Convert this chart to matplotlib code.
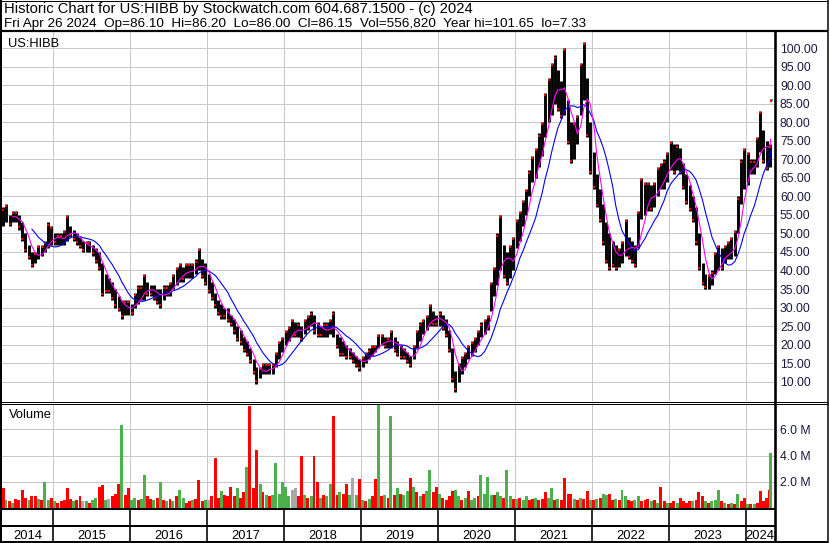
#!/usr/bin/env python

import matplotlib
matplotlib.use("Agg")
import matplotlib.pyplot as plt     # https://matplotlib.org
import pandas as pd                 # https://pandas.pydata.org

plt.rcParams['font.family'] = ['Liberation Sans', 'DejaVu Sans']

W, H = 830, 543          # output size in pixels
PX = 72 / 100            # one pixel in points at dpi 100

# Half-monthly high / low of US:HIBB (May 2014 .. Apr 2024)
highs = [
    57, 58, 55, 56, 56, 55, 53, 50, 47, 45, 45, 47, 47, 48, 53, 52,
    50, 50, 50, 51, 55, 52, 51, 50, 49, 48, 48, 48, 47, 46, 45, 42, 39, 38, 37, 35, 33, 32, 32, 32,
    31, 34, 36, 36, 39, 37, 36, 36, 35, 35, 36, 36, 37, 39, 41, 42, 41, 42, 42, 42, 43, 46, 43, 42,
    39, 37, 34, 32, 31, 30, 30, 28, 27, 25, 24, 22, 21, 19, 16, 14, 14, 15, 15, 15, 15, 18, 21, 22,
    24, 25, 27, 26, 26, 25, 27, 28, 29, 28, 26, 25, 26, 26, 27, 29, 23, 22, 21, 20, 19, 18, 17, 16,
    17, 18, 19, 20, 20, 23, 23, 22, 22, 24, 22, 21, 20, 19, 18, 17, 20, 24, 26, 27, 28, 31, 29, 28,
    29, 28, 27, 24, 19, 13, 15, 17, 18, 20, 21, 22, 24, 26, 27, 28, 37, 41, 50, 55, 47, 45, 47, 49,
    54, 56, 59, 62, 67, 71, 73, 77, 80, 88, 92, 96, 98, 94, 91, 100, 86, 80, 80, 82, 96, 101.65, 92, 80,
    72, 66, 62, 58, 53, 50, 48, 47, 46, 48, 54, 49, 48, 47, 56, 65, 64, 64, 63, 64, 68, 69, 70, 72,
    75, 74, 74, 73, 69, 66, 63, 60, 57, 50, 42, 39, 39, 40, 45, 47, 46, 47, 48, 49, 51, 60, 70, 73,
    72, 70, 70, 76, 83, 78, 75, 74, 86.20,
]
lows = [
    52, 53, 52, 53, 53, 51, 48, 45, 43, 41, 42, 43, 44, 45, 46, 47,
    47, 47, 47, 47, 48, 49, 48, 47, 46, 45, 45, 45, 44, 42, 40, 33, 34, 34, 32, 30, 29, 27, 28, 28,
    28, 30, 31, 32, 32, 33, 33, 32, 31, 30, 32, 33, 33, 35, 36, 37, 37, 38, 38, 38, 39, 40, 38, 36,
    34, 32, 30, 28, 27, 27, 26, 25, 23, 21, 20, 18, 17, 15, 12, 9.5, 11, 12, 12, 12, 12, 14, 16, 18,
    20, 21, 22, 22, 22, 21, 23, 24, 25, 23, 22, 22, 22, 22, 23, 22, 19, 17, 17, 16, 16, 15, 14, 13,
    14, 15, 16, 17, 18, 19, 20, 19, 19, 19, 18, 17, 16, 16, 15, 14, 16, 19, 21, 23, 24, 25, 25, 25,
    25, 24, 22, 18, 10, 7.33, 10, 12, 14, 16, 17, 18, 20, 22, 23, 24, 29, 33, 36, 40, 38, 36, 38, 40,
    46, 48, 52, 55, 60, 64, 65, 68, 71, 76, 80, 82, 85, 83, 81, 82, 74, 69, 70, 74, 82, 86, 76, 66,
    62, 57, 53, 47, 42, 40, 41, 40, 41, 42, 44, 43, 42, 41, 46, 54, 55, 56, 56, 57, 60, 62, 62, 64,
    67, 66, 67, 66, 62, 58, 56, 53, 47, 40, 36, 35, 35, 36, 39, 40, 40, 42, 43, 43, 44, 50, 58, 62,
    63, 66, 66, 68, 72, 69, 67, 68, 86.00,
]

# Largest daily volume seen in each half month, millions of shares
volumes = [
    1.5, 0.6, 0.5, 0.4, 0.7, 0.6, 1.4, 0.8, 0.6, 0.9, 0.9, 0.7, 0.6, 2.0, 0.6, 0.8,
    0.5, 0.4, 0.5, 0.6, 1.5, 0.7, 0.5, 0.6, 0.9, 0.5, 0.5, 0.4, 0.6, 0.8, 1.6, 1.75, 0.6, 0.7, 0.9, 1.1, 1.8, 6.3, 1.0, 1.5,
    0.6, 0.8, 0.6, 0.7, 2.5, 0.9, 0.7, 0.6, 0.8, 2.0, 0.6, 0.5, 0.7, 0.5, 0.9, 1.4, 0.8, 0.4, 0.5, 0.6, 0.7, 2.1, 0.5, 0.6,
    0.6, 0.9, 3.8, 0.8, 1.3, 1.0, 0.9, 1.6, 0.9, 1.5, 0.8, 1.2, 3.1, 7.8, 1.5, 4.4, 1.8, 1.2, 1.0, 0.9, 1.0, 3.4, 1.1, 2.0,
    1.6, 0.9, 1.4, 1.5, 0.9, 4.0, 1.0, 0.8, 0.9, 4.0, 2.0, 0.8, 1.0, 0.9, 1.8, 7.0, 1.0, 1.2, 1.1, 1.8, 1.0, 2.3, 1.0, 2.2,
    0.6, 0.5, 0.7, 0.9, 2.2, 7.9, 0.9, 1.0, 0.8, 7.0, 1.0, 1.5, 1.1, 1.0, 1.3, 2.3, 1.6, 1.2, 0.9, 1.1, 1.3, 2.9, 1.2, 1.6,
    1.1, 0.8, 0.6, 0.9, 1.3, 1.4, 0.9, 0.6, 0.8, 1.3, 0.6, 0.8, 0.9, 2.5, 1.1, 2.4, 1.0, 1.0, 1.2, 0.9, 0.8, 2.9, 0.9, 0.7,
    0.7, 0.8, 0.6, 0.9, 0.6, 0.7, 0.8, 0.6, 0.7, 1.2, 0.8, 1.5, 0.6, 0.7, 0.6, 2.3, 1.1, 1.1, 0.7, 0.6, 0.8, 0.7, 1.3, 0.6,
    0.6, 0.7, 0.8, 1.1, 1.0, 1.1, 0.6, 0.7, 0.6, 1.4, 0.9, 0.6, 0.5, 0.6, 0.9, 0.5, 0.6, 0.7, 0.5, 0.6, 0.4, 1.6, 0.5, 0.4,
    0.4, 0.5, 0.4, 0.8, 0.5, 0.4, 0.5, 0.5, 0.6, 1.2, 0.9, 0.5, 0.4, 0.5, 0.6, 1.4, 0.5, 0.4, 0.3, 0.4, 0.3, 1.1, 0.5, 0.8,
    0.3, 0.3, 0.3, 0.4, 1.3, 0.5, 0.8, 1.4, 4.2,
]
# r = down, g = up, k = unchanged
vol_dirs = (
    "rgrgrrrrgrrgrggr"
    "grrrrrgrrkgrggrrgkrrrgrr"
    "ggrggrrgrgrgrgrggrrgrrrg"
    "krrrgrrrrgrrgrrrgrgrgggg"
    "ggkkrrgrgrrgrggrrgrrgkgr"
    "grgrrgrgrgrgrggrgrgrggrr"
    "grrrrggrgrggrggggrggrggr"
    "grggrrgrrrggrgrrrrgrgrrg"
    "rgrggrrgrggrrggrrrgrgrrg"
    "rrgrrrrgrrrgrgggrgrgrgrr"
    "grgrrrrrg"
)

price_ticks = list(range(10, 101, 5))
volume_ticks = [2, 4, 6]
years = list(range(2015, 2025))
year_labels = list(range(2014, 2025))

header_1 = "Historic Chart for US:HIBB by Stockwatch.com 604.687.1500 - (c) 2024"
header_2 = ("Fri Apr 26 2024  Op=86.10  Hi=86.20  Lo=86.00  Cl=86.15  "
            "Vol=556,820  Year hi=101.65  lo=7.33")


def px_axes(fig, x0, y0, x1, y1):
    """Add an axes given by pixel box (top-left origin)."""
    return fig.add_axes([x0 / W, 1 - y1 / H, (x1 - x0) / W, (y1 - y0) / H])


def main() -> None:
    half_months = pd.date_range('2014-05-01', '2024-04-15', freq='SMS')
    dates = (half_months + pd.Timedelta(days=7)).append(
        pd.DatetimeIndex(['2024-04-26']))
    df = pd.DataFrame({'hi': highs, 'lo': lows, 'vol': volumes,
                       'dir': list(vol_dirs)}, index=dates)
    mid = (df['hi'] + df['lo']) / 2
    ma_fast = mid.rolling(4).mean()
    ma_slow = mid.rolling(10).mean()

    x_left, x_right = pd.Timestamp('2014-05-03'), pd.Timestamp('2024-05-12')
    year_starts = [pd.Timestamp(f'{y}-01-01') for y in years]
    grid = dict(color='#c8c8c8', lw=PX, zorder=0)

    fig = plt.figure(figsize=(W / 100, H / 100), dpi=100)

    # --- price panel
    ax = px_axes(fig, 2, 31, 774, 401)
    ax.set_xlim(x_left, x_right)
    ax.set_ylim(4.8, 104.6)
    for p in price_ticks:
        ax.axhline(p, **grid)
    for d in year_starts:
        ax.axvline(d, **grid)
    ax.vlines(df.index, df['lo'], df['hi'], color='black', lw=2.9 * PX, zorder=2)
    falling = mid.diff() < 0
    ax.plot(df.index[falling], df['lo'][falling] + 0.6, ls='none', marker='s',
            ms=1.9, mew=0, color='red', zorder=3)
    ax.plot(df.index[~falling], df['hi'][~falling] - 0.6, ls='none', marker='s',
            ms=1.9, mew=0, color='red', zorder=3)
    ax.plot(df.index, ma_slow, color='#0000ff', lw=1.1 * PX, zorder=4)
    ax.plot(df.index, ma_fast, color='#ff00ff', lw=1.1 * PX, zorder=5)
    ax.yaxis.tick_right()
    ax.set_yticks(price_ticks)
    ax.set_yticklabels([f'{p:.2f}' for p in price_ticks])
    ax.tick_params(axis='y', length=0, pad=4.3, labelsize=8.8, labelcolor='#1a1a40')
    ax.set_xticks([])
    for s in ax.spines.values():
        s.set_visible(False)
    ax.text(6 / 772, 1 - 16 / 370, 'US:HIBB', transform=ax.transAxes,
            fontsize=9.3, va='baseline')

    # --- volume panel
    axv = px_axes(fig, 2, 403, 774, 508)
    axv.set_xlim(x_left, x_right)
    axv.set_ylim(0, 8)
    for v in volume_ticks:
        axv.axhline(v, **grid)
    for d in year_starts:
        axv.axvline(d, **grid)
    colors = df['dir'].map({'r': '#ff0000', 'g': '#4cb04c', 'k': '#a8a8a8'})
    axv.bar(df.index, df['vol'], width=14, color=colors, zorder=2)
    axv.yaxis.tick_right()
    axv.set_yticks(volume_ticks)
    axv.set_yticklabels([f'{v:.1f} M' for v in volume_ticks])
    axv.tick_params(axis='y', length=0, pad=4.3, labelsize=8.8, labelcolor='#1a1a40')
    axv.set_xticks([])
    for s in axv.spines.values():
        s.set_visible(False)
    axv.text(7 / 772, 1 - 15 / 105, 'Volume', transform=axv.transAxes,
             fontsize=9.3, va='baseline')

    # --- year strip
    axy = px_axes(fig, 2, 509, 774, 542)
    axy.set_xlim(x_left, x_right)
    axy.set_ylim(33, 0)
    for d in year_starts:
        axy.axvline(d, color='black', lw=1.6 * PX)
    bounds = [x_left] + year_starts + [x_right]
    for y, a, b in zip(year_labels, bounds[:-1], bounds[1:]):
        axy.text(a + (b - a) / 2, 30, str(y), ha='center', va='baseline', fontsize=9.3)
    axy.axis('off')

    # --- frame and header, drawn in pixel coordinates
    top = fig.add_axes([0, 0, 1, 1], facecolor='none')
    top.set_xlim(0, W)
    top.set_ylim(H, 0)
    top.axis('off')
    lines = [
        ((0, 828), (0.5, 0.5), 1), ((0, 828), (31, 31), 2.2),
        ((0, 828), (401.5, 401.5), 1), ((0, 828), (403.5, 403.5), 1),
        ((0, 775), (509, 509), 2), ((0, 775), (526, 526), 2),
        ((0, 828), (541.5, 541.5), 2),
        ((1, 1), (0, 543), 2), ((828, 828), (0, 543), 1.5),
        ((775, 775), (31, 543), 2.6),
    ]
    for xs, ys, w in lines:
        top.plot(xs, ys, color='black', lw=w * PX, solid_capstyle='butt')
    top.text(4, 12.9, header_1, fontsize=10.6, va='baseline')
    top.text(4, 26.9, header_2, fontsize=9.7, va='baseline')

    fig.savefig('out.png', dpi=100)


if __name__ == "__main__":
    main()
